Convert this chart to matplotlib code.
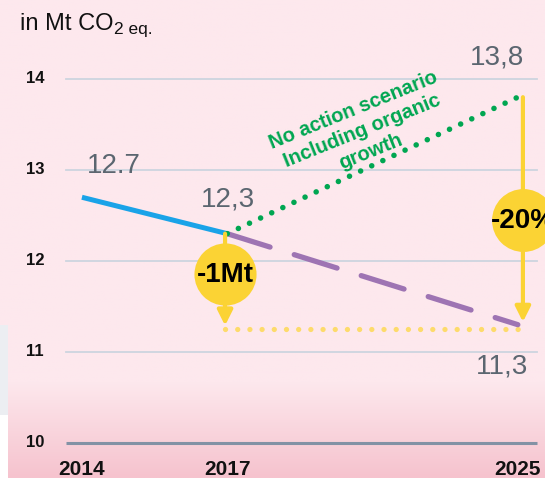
import numpy as np
import matplotlib
matplotlib.use("Agg")
import matplotlib.pyplot as plt

plt.rcParams['font.family'] = ['Liberation Sans', 'DejaVu Sans']

# ---- data ----
years = [2014, 2017, 2025]
year_pos = [0, 1, 3]               # uneven spacing as in the reference
actual_years = [2014, 2017]
actual_vals = [12.7, 12.3]
target_years = [2017, 2025]
target_vals = [12.3, 11.3]
noaction_years = [2017, 2025]
noaction_vals = [12.3, 13.8]
yticks = [10, 11, 12, 13, 14]
reduction_level = 11.25
label_actual_2014 = "12.7"
label_2017 = "12,3"
label_noaction = "13,8"
label_target = "11,3"
label_1mt = "-1Mt"
label_20 = "-20%"
scenario_text = "No action scenario\nIncluding organic\ngrowth"

pos = dict(zip(years, year_pos))
def P(ys):
    return [pos[y] for y in ys]

W, H = 545, 478
fig = plt.figure(figsize=(W / 100, H / 100), dpi=100)
ax = fig.add_axes([0, 0, 1, 1])
XL, XR, YB, YT = -0.564, 3.187, 9.615, 14.868
ax.set_xlim(XL, XR)
ax.set_ylim(YB, YT)
ax.axis('off')

# background gradient (pink)
n = 256
t = np.linspace(0, 1, n)  # 0 bottom -> 1 top
top = np.array([0xfd, 0xe8, 0xed]) / 255
bot = np.array([0xf6, 0xc3, 0xce]) / 255
w = np.clip((0.20 - t) / 0.20, 0, 1)[:, None]
grad = top * (1 - w) + bot * w
img = np.repeat(grad[:, None, :], 2, axis=1)
ax.imshow(img, extent=[XL, XR, YB, YT], origin='lower', aspect='auto', zorder=0)
# left strip
x8 = XL + 8 / 145.3
ax.fill_between([XL, x8], YB, 10 + (443 - 415) / 91, color='white', zorder=0.5, lw=0)
ax.fill_between([XL, x8], 10 + (443 - 415) / 91, 10 + (443 - 325) / 91,
                color='#eceef2', zorder=0.5, lw=0)

# gridlines
for yv in yticks:
    if yv == 10:
        ax.plot([-0.11, 3.13], [yv, yv], color='#8392a5', lw=2.2, zorder=1,
                solid_capstyle='butt')
    else:
        ax.plot([-0.11, 3.13], [yv, yv], color='#cdd5df', lw=1.3, zorder=1)
    ax.text(-0.323, yv, str(yv), ha='center', va='center', fontsize=12,
            fontweight='bold', color='#111111')

for yr, p in zip(years, year_pos):
    ax.text(p, 9.712, str(yr), ha='center', va='center', fontsize=15,
            fontweight='bold', color='#111111')

# yellow dotted reduction line
ax.plot([pos[2017] - 0.015, pos[2025]], [reduction_level, reduction_level],
        color='#fddb6b', lw=3.8, dashes=(0.01, 2.3), dash_capstyle='round', zorder=2)

# lines
ax.plot(P(actual_years), actual_vals, color='#1aa3e8', lw=3.6,
        solid_capstyle='butt', zorder=3)
ax.plot(P(target_years), target_vals, color='#9e74b3', lw=3.8,
        dashes=(8.5, 4.8), dash_capstyle='round', zorder=3)
ax.plot(P(noaction_years), noaction_vals, color='#00a651', lw=4.0,
        dashes=(0.01, 2.2), dash_capstyle='round', zorder=3)

# arrows
yel = '#fbd334'
def arrow(x, y0, y1):
    ax.annotate('', xy=(x, y1), xytext=(x, y0),
                arrowprops=dict(arrowstyle='-|>,head_length=0.9,head_width=0.45',
                                color=yel, lw=3.0, shrinkA=0, shrinkB=0),
                zorder=4, annotation_clip=False)

arrow(pos[2017] - 0.015, actual_vals[1], 11.29)
arrow(pos[2025] + 0.035, noaction_vals[1], 11.33)

ax.scatter([pos[2017] - 0.015], [11.857], s=2000, color=yel, zorder=5, lw=0)
ax.scatter([pos[2025] + 0.035], [12.45], s=2050, color=yel, zorder=5, lw=0,
           clip_on=False)
ax.text(pos[2017] - 0.015, 11.85, label_1mt, ha='center', va='center',
        fontsize=20, fontweight='bold', color='black', zorder=6)
ax.text(pos[2025] + 0.035, 12.44, label_20, ha='center', va='center',
        fontsize=20, fontweight='bold', color='black', zorder=6)

# value labels
grey = '#5b6670'
ax.text(0.217, 13.044, label_actual_2014, ha='center', va='center', fontsize=20, color=grey)
ax.text(1.008, 12.68, label_2017, ha='center', va='center', fontsize=20, color=grey)
ax.text(2.86, 14.24, label_noaction, ha='center', va='center', fontsize=20, color=grey)
ax.text(2.89, 10.835, label_target, ha='center', va='center', fontsize=20, color=grey)

# scenario text
ax.text((362 - 82) / 145.3, 10 + (443 - 131) / 91, scenario_text,
        ha='center', va='center', rotation=22, rotation_mode='anchor',
        multialignment='center', fontsize=14.5, fontweight='bold',
        color='#00a651', linespacing=1.2, zorder=6)

# title
t1 = fig.text(20 / W, 1 - 30 / H, "in Mt CO", fontsize=17, color='#111111',
              ha='left', va='baseline')
fig.canvas.draw()
bb = t1.get_window_extent()
fig.text(bb.x1 / W + 1 / W, 1 - 34 / H, "2 eq.", fontsize=12.5, color='#111111',
         ha='left', va='baseline')

fig.savefig('out.png', dpi=100)
